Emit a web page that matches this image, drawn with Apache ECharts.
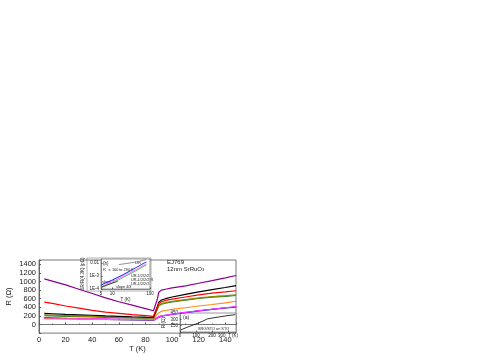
<!DOCTYPE html>
<html>
<head>
<meta charset="utf-8">
<script src="https://cdn.jsdelivr.net/npm/echarts@6/dist/echarts.min.js"></script>
<style>
html,body{margin:0;padding:0;background:#fff;}
#main{width:491px;height:354px;}
</style>
</head>
<body>
<div id="main"></div>
<script>
// main panel: R(T) of the samples
var tMain = [4, 10, 20, 30, 40, 50, 60, 70, 80, 86, 87.5, 89, 90, 92, 95, 100, 110, 120, 130, 140, 148];
var rPurple = [1060, 1010, 920, 820, 720, 620, 530, 450, 370, 320, 340, 600, 750, 800, 820, 850, 900, 960, 1020, 1085, 1140];
var rRed    = [520, 490, 430, 380, 330, 290, 260, 230, 205, 190, 220, 420, 490, 530, 560, 590, 640, 690, 730, 760, 785];
var rBlack  = [260, 250, 235, 225, 215, 200, 190, 180, 172, 168, 200, 420, 520, 570, 600, 640, 700, 760, 810, 860, 905];
var rOlive  = [225, 218, 207, 197, 187, 177, 168, 160, 155, 153, 180, 380, 450, 490, 510, 540, 580, 620, 650, 670, 690];
var rGreen  = [205, 200, 190, 182, 174, 166, 160, 153, 148, 146, 170, 360, 430, 470, 495, 525, 565, 605, 635, 655, 675];
var rOrange = [130, 128, 125, 122, 119, 116, 114, 112, 110, 109, 130, 250, 290, 310, 325, 350, 390, 430, 465, 505, 540];
var rMagenta= [150, 148, 145, 140, 135, 130, 125, 120, 115, 110, 125, 160, 190, 200, 215, 240, 280, 320, 355, 390, 415];
var rBlue   = [160, 152, 140, 132, 125, 117, 110, 105, 100, 95, 110, 150, 180, 195, 210, 235, 275, 315, 350, 385, 405];

// inset (b): log-log
var tInsetB = [5, 10, 20, 40, 80];
var bBlue  = [2.0e-4, 5.0e-4, 1.3e-3, 4.0e-3, 1.2e-2];
var bPink  = [1.5e-4, 3.6e-4, 9.5e-4, 2.8e-3, 8.5e-3];
var bGreen = [1.2e-4, 3.0e-4, 8.0e-4, 2.3e-3, 7.0e-3];
var tUR = [15, 30, 50, 80];
var bUR = [7.5e-3, 1.0e-2, 1.3e-2, 1.8e-2];
var tSlope1 = [5, 14];
var bSlope1 = [1.4e-4, 3.9e-4];

// inset (a): SRO/STO on STO reference film
var tInsetA = [5, 50, 100, 150, 170, 200, 250, 300, 345];
var rInsetA = [50, 120, 190, 270, 310, 330, 360, 390, 410];

function pairs(xs, ys) {
    var out = [];
    for (var i = 0; i < xs.length; i++) out.push([xs[i], ys[i]]);
    return out;
}

var font = 'Liberation Sans';
var lbl = {fontFamily: font, fontSize: 7.5, color: '#222'};
var small = {fontFamily: font, fontSize: 4.5, color: '#222'};

var myChart = echarts.init(document.getElementById('main'));

function mainLine(name, color, data, sym) {
    return {
        name: name, type: 'line', xAxisIndex: 0, yAxisIndex: 0,
        data: pairs(tMain, data),
        showSymbol: !!sym, symbol: 'rect', symbolSize: 1.5,
        itemStyle: {color: color},
        lineStyle: {color: color, width: 1.2},
        animation: false
    };
}

function insetLine(color, xs, ys, w) {
    return {
        type: 'line', xAxisIndex: 1, yAxisIndex: 1,
        data: pairs(xs, ys), showSymbol: false,
        lineStyle: {color: color, width: w || 0.9},
        animation: false
    };
}

var option = {
    backgroundColor: '#fff',
    grid: [
        {left: 39, top: 260, width: 197, height: 78, show: true, borderColor: '#555', borderWidth: 0.8},
        {left: 101, top: 259, width: 49, height: 30, show: true, borderColor: '#555', borderWidth: 0.6, backgroundColor: '#fff'},
        {left: 180, top: 313, width: 56, height: 19, show: true, borderColor: '#555', borderWidth: 0.6, backgroundColor: '#fff'}
    ],
    xAxis: [
        {
            gridIndex: 0, type: 'value', min: 0, max: 148, interval: 20,
            name: 'T (K)', nameLocation: 'middle', nameGap: 10, nameTextStyle: lbl,
            axisLine: {lineStyle: {color: '#555', width: 0.8}},
            axisTick: {inside: true, length: 2, lineStyle: {color: '#555'}},
            minorTick: {show: true, splitNumber: 2, length: 1},
            axisLabel: Object.assign({margin: 3}, lbl),
            splitLine: {show: false}
        },
        {
            gridIndex: 1, type: 'log', min: 5, max: 100, logBase: 10,
            name: 'T (K)', nameLocation: 'middle', nameGap: 6, nameTextStyle: small,
            axisLine: {lineStyle: {color: '#555', width: 0.6}},
            axisTick: {inside: true, length: 1.5},
            axisLabel: Object.assign({margin: 2}, small),
            splitLine: {show: false}
        },
        {
            gridIndex: 2, type: 'value', min: 0, max: 350, interval: 100,
            axisLine: {lineStyle: {color: '#555', width: 0.6}},
            axisTick: {inside: true, length: 1.5},
            axisLabel: Object.assign({margin: 1, formatter: function (v) { return v === 300 ? '300  T (K)' : v; }}, small),
            splitLine: {show: false}
        }
    ],
    yAxis: [
        {
            gridIndex: 0, type: 'value', min: -200, max: 1500, interval: 200,
            name: 'R (\u03A9)', nameLocation: 'middle', nameGap: 26, nameTextStyle: lbl,
            axisLine: {lineStyle: {color: '#555', width: 0.8}},
            axisTick: {inside: true, length: 2},
            minorTick: {show: true, splitNumber: 2, length: 1},
            axisLabel: Object.assign({margin: 3, formatter: function (v) { return v < 0 ? '' : v; }}, lbl),
            splitLine: {show: false}
        },
        {
            gridIndex: 1, type: 'log', min: 1e-4, max: 0.02, logBase: 10,
            name: '\u0394R/R(4.3K) (p\u03A9)', nameLocation: 'middle', nameGap: 11, nameTextStyle: small,
            axisLine: {lineStyle: {color: '#555', width: 0.6}},
            axisTick: {inside: true, length: 1.5},
            axisLabel: Object.assign({margin: 2, formatter: function (v) {
                if (v >= 0.009) return '0.01';
                if (v >= 0.0009) return '1E-3';
                return '1E-4';
            }}, small),
            splitLine: {show: false}
        },
        {
            gridIndex: 2, type: 'value', min: 0, max: 450, interval: 150,
            name: 'R (\u03A9)', nameLocation: 'middle', nameGap: 11, nameTextStyle: small,
            axisLine: {lineStyle: {color: '#555', width: 0.6}},
            axisTick: {inside: true, length: 1.5},
            axisLabel: Object.assign({margin: 2, formatter: function (v) { return v === 0 ? '' : v; }}, small),
            splitLine: {show: false}
        }
    ],
    series: [
        mainLine('blue', '#0000ff', rBlue),
        mainLine('magenta', '#ff33ff', rMagenta, true),
        mainLine('orange', '#ff8c1a', rOrange),
        mainLine('green', '#2e7d32', rGreen),
        mainLine('olive', '#8c8c00', rOlive),
        mainLine('black', '#000000', rBlack),
        mainLine('red', '#ff0000', rRed),
        mainLine('purple', '#8b008b', rPurple),
        insetLine('#33cc33', tInsetB, bGreen),
        insetLine('#ff66ff', tInsetB, bPink),
        insetLine('#3333ff', tInsetB, bBlue, 1.1),
        insetLine('#888888', tUR, bUR),
        insetLine('#000000', tSlope1, bSlope1, 0.6),
        {
            type: 'line', xAxisIndex: 2, yAxisIndex: 2,
            data: pairs(tInsetA, rInsetA), showSymbol: false,
            lineStyle: {color: '#000', width: 0.8}, animation: false
        }
    ],
    graphic: [
        {type: 'rect', shape: {x: 87, y: 258, width: 64, height: 33}, style: {fill: 'none', stroke: '#666', lineWidth: 0.5}, z: 5},
        {type: 'text', left: 167, top: 259, style: {text: 'EJ769', font: '6px "Liberation Sans"', fill: '#222'}},
        {type: 'text', left: 167, top: 266, style: {text: '12nm SrRuO{s|3}', font: '6px "Liberation Sans"', fill: '#222',
            rich: {s: {fontSize: 4, verticalAlign: 'bottom', fontFamily: font}}}},
        {type: 'text', left: 103, top: 261, style: {text: '(b)', font: '4.5px "Liberation Sans"', fill: '#222'}},
        {type: 'text', left: 135, top: 261, style: {text: 'UR', font: '4px "Liberation Sans"', fill: '#222'}},
        {type: 'text', left: 103, top: 268, style: {text: 'R  \u221D 100 to 294 K', font: '3.8px "Liberation Sans"', fill: '#222'}},
        {type: 'text', left: 102, top: 280, style: {text: 'slope 1', font: '3.8px "Liberation Sans"', fill: '#222'}},
        {type: 'text', left: 116, top: 285, style: {text: 'slope 4/3', font: '3.8px "Liberation Sans"', fill: '#222'}},
        {type: 'text', left: 131, top: 274, style: {text: 'UR-1/2/2/2', font: '3.8px "Liberation Sans"', fill: '#222'}},
        {type: 'text', left: 131, top: 278, style: {text: 'UR-1/2/2/2 R', font: '3.8px "Liberation Sans"', fill: '#222'}},
        {type: 'text', left: 131, top: 282, style: {text: 'UR-1/2/2/2', font: '3.8px "Liberation Sans"', fill: '#222'}},
        {type: 'text', left: 183, top: 315, style: {text: '(a)', font: '5px "Liberation Sans"', fill: '#222'}},
        {type: 'text', left: 198, top: 327, style: {text: 'SRO/STO on STO', font: '3.8px "Liberation Sans"', fill: '#222'}}
    ]
};
myChart.setOption(option);
</script>
</body>
</html>
